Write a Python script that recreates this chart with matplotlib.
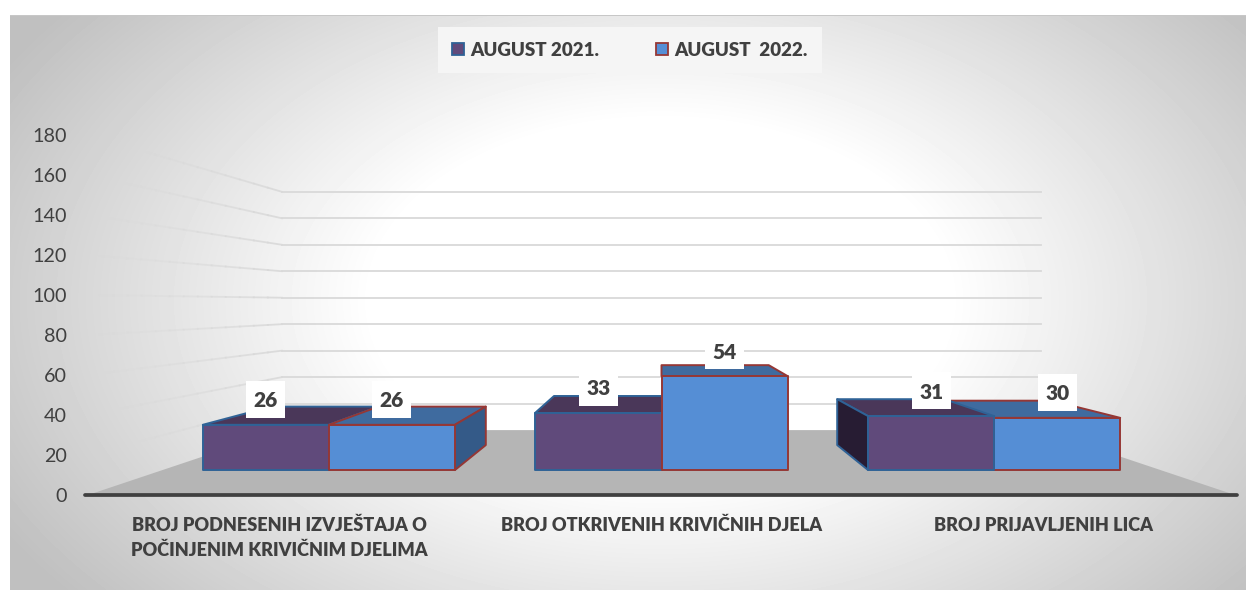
import numpy as np
import matplotlib
matplotlib.use("Agg")
import matplotlib.pyplot as plt
from matplotlib.patches import Polygon, Patch, Rectangle

plt.rcParams['font.family'] = ['Lato', 'DejaVu Sans']

categories = ["BROJ PODNESENIH IZVJEŠTAJA O\nPOČINJENIM KRIVIČNIM DJELIMA",
              "BROJ OTKRIVENIH KRIVIČNIH DJELA",
              "BROJ PRIJAVLJENIH LICA"]
series_names = ["AUGUST 2021.", "AUGUST  2022."]
values_2021 = [26, 33, 31]
values_2022 = [26, 54, 30]
y_ticks = [0, 20, 40, 60, 80, 100, 120, 140, 160, 180]

W, H = 1246, 590
# perspective: s=1 is the front of the floor, vanishing point in data units
VP_X, VP_Y = 1.0, 96.0
S_WALL, S_FRONT, S_BACK = 0.662, 0.87, 0.74
BAR_W = 0.379

TEXT = "#404040"
WEIGHT = "heavy"
faces = [dict(front="#604a7b", top="#4a3759", side="#271c33", edge="#2f6296"),
         dict(front="#558ed5", top="#3f6b9f", side="#345a88", edge="#953735")]


def proj(x, v, s):
    return (VP_X + s * (x - VP_X), VP_Y + s * (v - VP_Y))


fig = plt.figure(figsize=(W / 100, H / 100), dpi=100)

# gradient background of the chart area
bg = fig.add_axes([0, 0, 1, 1], zorder=0)
bg.set_axis_off()
xx, yy = np.meshgrid(np.arange(W), np.arange(H))
r = np.sqrt(((xx - 660) / 640) ** 2 + ((yy - 300) / 400) ** 2)
shade = np.clip(1 - 0.34 * np.clip(r - 0.45, 0, None), 0.75, 1)
shade[15, :] = 0.78
shade[:15, :] = 1
shade[:, :10] = 1
bg.imshow(shade, cmap="gray", vmin=0, vmax=1, aspect="auto")

# main axes: x is category units, y is value at the front of the floor
ax = fig.add_axes([88 / W, 1 - 495 / H, (1235 - 88) / W, 360 / H], zorder=1)
ax.patch.set_alpha(0)
ax.set_xlim(-0.5, 2.5)
ax.set_ylim(0, 180)
for name in ["top", "right", "left"]:
    ax.spines[name].set_visible(False)
ax.spines["bottom"].set_color("#404040")
ax.spines["bottom"].set_linewidth(2.7)
ax.spines["bottom"].set_bounds(-0.507, 2.505)
ax.spines["bottom"].set_capstyle("round")
ax.spines["bottom"].set_zorder(5)
ax.set_yticks(y_ticks)
ax.tick_params(axis="y", length=0, labelsize=14.2, labelcolor=TEXT, pad=15)
ax.set_xticks([0, 1, 2])
ax.set_xticklabels(categories, fontsize=13.1, fontweight=WEIGHT, color=TEXT, linespacing=1.5)
ax.tick_params(axis="x", length=0, pad=16)
for lab in ax.get_xticklabels():
    lab.set_verticalalignment("top")
    lab.set_multialignment("center")

# floor
ax.add_patch(Polygon([proj(-0.5, 0, 1), proj(2.5, 0, 1), proj(2.5, 0, S_WALL), proj(-0.5, 0, S_WALL)],
                     fc="#b5b5b5", ec="none", zorder=1, clip_on=False))

# gridlines: back wall plus left wall, fading out towards the front
for v in y_ticks[1:]:
    x0, y0 = proj(-0.5, v, S_WALL)
    x1, y1 = proj(2.5, v, S_WALL)
    ax.plot([x0, x1], [y0, y1], color="#d9d9d9", lw=1.3, zorder=0.8, clip_on=False)
    fade = np.linspace(S_WALL, 0.98, 14)
    for k in range(len(fade) - 1):
        a = proj(-0.5, v, fade[k])
        b = proj(-0.5, v, fade[k + 1])
        ax.plot([a[0], b[0]], [a[1], b[1]], color="#d9d9d9", lw=1.3, zorder=0.8,
                alpha=0.9 * (1 - k / (len(fade) - 1)), clip_on=False)


def draw_bar(x_left, val, f):
    x_right = x_left + BAR_W
    kw = dict(ec=f["edge"], lw=1.4, joinstyle="round", zorder=2, clip_on=False)
    top = [proj(x_left, val, S_FRONT), proj(x_right, val, S_FRONT),
           proj(x_right, val, S_BACK), proj(x_left, val, S_BACK)]
    ax.add_patch(Polygon(top, fc=f["top"], **kw))
    if x_right < VP_X:
        side = [proj(x_right, 0, S_FRONT), proj(x_right, val, S_FRONT),
                proj(x_right, val, S_BACK), proj(x_right, 0, S_BACK)]
        ax.add_patch(Polygon(side, fc=f["side"], **kw))
    if x_left > VP_X:
        side = [proj(x_left, 0, S_FRONT), proj(x_left, val, S_FRONT),
                proj(x_left, val, S_BACK), proj(x_left, 0, S_BACK)]
        ax.add_patch(Polygon(side, fc=f["side"], **kw))
    front = [proj(x_left, 0, S_FRONT), proj(x_right, 0, S_FRONT),
             proj(x_right, val, S_FRONT), proj(x_left, val, S_FRONT)]
    ax.add_patch(Polygon(front, fc=f["front"], **kw))


for i in range(len(categories)):
    bars = [(i - BAR_W, values_2021[i], faces[0]), (i, values_2022[i], faces[1])]
    # bars nearer the vanishing point are painted last
    bars.sort(key=lambda b: -abs(b[0] + BAR_W / 2 - VP_X))
    for b in bars:
        draw_bar(*b)

# data labels sit on white boxes above the front top edge
BOX_W, BOX_H = 0.102, 18.5
for i in range(len(categories)):
    for x_left, val in [(i - BAR_W, values_2021[i]), (i, values_2022[i])]:
        lx, ly = proj(x_left + BAR_W / 2, val, S_FRONT)
        ax.add_patch(Rectangle((lx - BOX_W / 2, ly + 12.75 - BOX_H / 2), BOX_W, BOX_H,
                               fc="white", ec="none", zorder=3, clip_on=False))
        ax.text(lx, ly + 12, str(val), ha="center", va="center", fontsize=15,
                fontweight=WEIGHT, color=TEXT, zorder=4, clip_on=False)

handles = [Patch(fc=faces[k]["front"], ec=faces[k]["edge"], lw=1.3) for k in range(2)]
leg = fig.legend(handles, series_names, ncol=2, loc="center", bbox_to_anchor=(630 / W, 1 - 50 / H),
                 frameon=True, facecolor="#f5f5f5", edgecolor="none", framealpha=1, fancybox=False,
                 fontsize=13.5, handlelength=0.63, handleheight=0.63, handletextpad=0.32,
                 columnspacing=3.05, borderpad=0.75)
for t in leg.get_texts():
    t.set_fontweight(WEIGHT)
    t.set_color(TEXT)

fig.savefig("out.png", dpi=100)
